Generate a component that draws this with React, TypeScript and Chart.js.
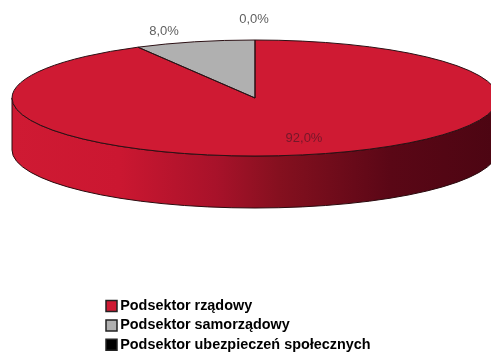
import React, { useEffect, useRef } from "react";
import { Chart, registerables } from "chart.js";

Chart.register(...registerables);

const categories = ["Podsektor rządowy", "Podsektor samorządowy", "Podsektor ubezpieczeń społecznych"];
const shares = [92.0, 8.0, 0.0];
const sliceColors = ["#cf1a33", "#b0b0b0", "#000000"];
const valueLabels = ["92,0%", "8,0%", "0,0%"];
const valueLabelColors = ["#74182a", "#5f5f5f", "#5f5f5f"];

const PIE_RADIUS = 243;
const SQUASH = 58 / 243;
const DEPTH = 52;
const PIE_BAND_BOTTOM = 196;
const LEGEND_SHIFT = 8;
const FONT = '"Liberation Sans", Arial, sans-serif';
const labelOffsets = [
  { dx: 49, dy: 40 },
  { dx: -91, dy: -67 },
  { dx: -1, dy: -79 },
];

const pie3d = {
  id: "pie3d",
  afterLayout(chart: any) {
    const area = chart.chartArea;
    area.top = 0;
    area.bottom = PIE_BAND_BOTTOM;
    area.height = PIE_BAND_BOTTOM;
    chart.legend.top += LEGEND_SHIFT;
    chart.legend.bottom += LEGEND_SHIFT;
  },
  beforeDatasetsDraw(chart: any) {
    const arcs = chart.getDatasetMeta(0).data;
    const { ctx } = chart;
    const { x: cx, y: cy, outerRadius: rx } = arcs[0];
    const ry = rx * SQUASH;
    ctx.save();
    const wall = ctx.createLinearGradient(cx - rx, 0, cx + rx, 0);
    wall.addColorStop(0, "#cf1a33");
    wall.addColorStop(0.22, "#cb1731");
    wall.addColorStop(0.42, "#a8122a");
    wall.addColorStop(0.55, "#85101f");
    wall.addColorStop(0.78, "#5a0716");
    wall.addColorStop(1, "#4c0512");
    ctx.beginPath();
    ctx.ellipse(cx, cy, rx, ry, 0, 0, Math.PI);
    ctx.lineTo(cx - rx, cy + DEPTH);
    ctx.ellipse(cx, cy + DEPTH, rx, ry, 0, Math.PI, 0, true);
    ctx.closePath();
    ctx.fillStyle = wall;
    ctx.fill();
    ctx.strokeStyle = "#2a0a0e";
    ctx.lineWidth = 1;
    ctx.stroke();
    ctx.restore();

    ctx.save();
    ctx.translate(cx, cy);
    ctx.scale(1, SQUASH);
    ctx.translate(-cx, -cy);
  },
  afterDatasetsDraw(chart: any) {
    const arcs = chart.getDatasetMeta(0).data;
    const { ctx } = chart;
    ctx.restore();
    const { x: cx, y: cy, outerRadius: rx } = arcs[0];
    const ry = rx * SQUASH;
    ctx.save();
    ctx.strokeStyle = "#2b1014";
    ctx.lineWidth = 1;
    arcs.forEach((arc: any) => {
      if (arc.endAngle - arc.startAngle <= 0) return;
      ctx.beginPath();
      ctx.moveTo(cx, cy);
      ctx.ellipse(cx, cy, rx, ry, 0, arc.startAngle, arc.endAngle);
      ctx.closePath();
      ctx.stroke();
    });
    ctx.font = `13px ${FONT}`;
    ctx.textAlign = "center";
    ctx.textBaseline = "middle";
    valueLabels.forEach((text, i) => {
      ctx.fillStyle = valueLabelColors[i];
      ctx.fillText(text, cx + labelOffsets[i].dx, cy + labelOffsets[i].dy);
    });
    ctx.restore();
  },
};

export default function App() {
  const ref = useRef<HTMLCanvasElement>(null);
  useEffect(() => {
    if (!ref.current) return;
    const chart = new Chart(ref.current, {
      type: "pie",
      data: {
        labels: categories,
        datasets: [
          {
            data: shares,
            backgroundColor: sliceColors,
            borderWidth: 0,
            clip: false,
          } as any,
        ],
      },
      options: {
        responsive: false,
        animation: false,
        radius: PIE_RADIUS,
        layout: { padding: { left: 105, right: 86, top: 0, bottom: 0 } },
        plugins: {
          tooltip: { enabled: false },
          legend: {
            position: "bottom",
            align: "start",
            maxWidth: 300,
            labels: {
              usePointStyle: true,
              boxWidth: 3,
              boxHeight: 11,
              padding: 5,
              color: "#000000",
              font: { family: FONT, size: 14.4, weight: "bold" },
              generateLabels: () =>
                categories.map((text, i) => ({
                  text,
                  fillStyle: sliceColors[i],
                  strokeStyle: "#222222",
                  lineWidth: 1.5,
                  pointStyle: "rect",
                  hidden: false,
                  index: i,
                })),
            },
          } as any,
        },
      } as any,
      plugins: [pie3d],
    });
    return () => chart.destroy();
  }, []);
  return (
    <canvas
      ref={ref}
      width={491}
      height={354}
      style={{ position: "absolute", left: 0, top: 0, display: "block", background: "#ffffff" }}
    />
  );
}
